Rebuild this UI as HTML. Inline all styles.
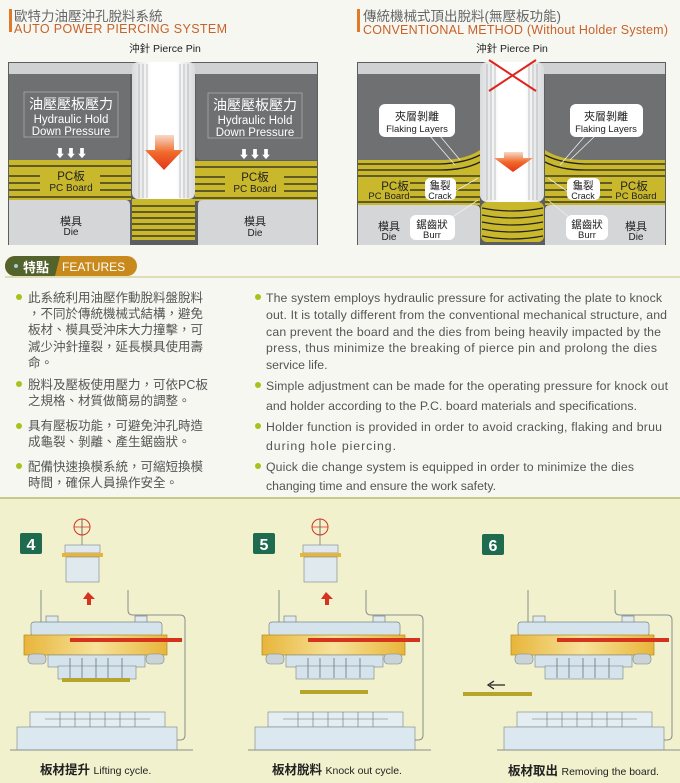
<!DOCTYPE html>
<html><head><meta charset="utf-8"><style>
html,body{margin:0;padding:0;background:#f6f7f1}
svg{display:block}
text{font-family:"Liberation Sans","Noto Sans CJK TC",sans-serif}
</style></head><body>
<svg width="680" height="783" viewBox="0 0 680 783" xmlns="http://www.w3.org/2000/svg">
<defs>
<linearGradient id="ra" x1="0" y1="0" x2="0" y2="1"><stop offset="0" stop-color="#f7d9c8"/><stop offset="0.5" stop-color="#f06a2a"/><stop offset="1" stop-color="#e4341b"/></linearGradient>
<linearGradient id="yl" x1="0" y1="0" x2="1" y2="0"><stop offset="0" stop-color="#e8b53a"/><stop offset="0.5" stop-color="#f7e29a"/><stop offset="1" stop-color="#e8b53a"/></linearGradient>
<linearGradient id="pin" x1="0" y1="0" x2="1" y2="0"><stop offset="0" stop-color="#d8dadb"/><stop offset="0.3" stop-color="#fff"/><stop offset="0.7" stop-color="#fff"/><stop offset="1" stop-color="#d8dadb"/></linearGradient>
<g id="upper">
 <path d="M41 590V622M128 590V610Q128 615 133 615H180Q185 615 185 620V735Q185 740 180 740H175" stroke="#8a8f90" fill="none" stroke-width="1"/>
 <rect x="46" y="616" width="12" height="7" fill="#dfe9ee" stroke="#7a8589" stroke-width="0.7"/>
 <rect x="135" y="616" width="12" height="7" fill="#dfe9ee" stroke="#7a8589" stroke-width="0.7"/>
 <rect x="31" y="622" width="131" height="14" rx="3" fill="#d5e4ec" stroke="#7a8589" stroke-width="0.7"/>
 <rect x="24" y="635" width="143" height="20" fill="url(#yl)" stroke="#b08a20" stroke-width="0.7"/>
 <rect x="70" y="638" width="112" height="4" fill="#d6331f"/>
 <rect x="28" y="654" width="18" height="10" rx="4" fill="#c9d3d8" stroke="#7a8589" stroke-width="0.6"/>
 <rect x="146" y="654" width="18" height="10" rx="4" fill="#c9d3d8" stroke="#7a8589" stroke-width="0.6"/>
 <rect x="48" y="655" width="97" height="12" fill="#d5e4ec" stroke="#7a8589" stroke-width="0.6"/>
 <rect x="58" y="666" width="78" height="13" fill="#d5e4ec" stroke="#7a8589" stroke-width="0.6"/>
 <path d="M70 658V678M82 658V678M96 658V678M108 658V678M122 658V678" stroke="#6a7376" stroke-width="0.8"/>
</g>
<g id="lower">
 <rect x="30" y="712" width="135" height="15" fill="#e4edf1" stroke="#7a8589" stroke-width="0.6"/>
 <path d="M60 712V727M75 712V727M90 712V727M105 712V727M120 712V727M135 712V727M45 719H150" stroke="#6a7376" stroke-width="0.6"/>
 <rect x="17" y="727" width="160" height="23" fill="#dbe8ef" stroke="#7a8589" stroke-width="0.6"/>
 <line x1="10" y1="750" x2="193" y2="750" stroke="#8a8f90"/>
</g>
<g id="head">
 <circle cx="82" cy="527" r="8" fill="none" stroke="#d6331f" stroke-width="1"/>
 <path d="M74 527H90M82 519V535" stroke="#d6331f" stroke-width="0.7"/>
 <path d="M82 519V582" stroke="#555" stroke-width="0.6"/>
 <rect x="65" y="545" width="35" height="8" fill="#dfe9ee" stroke="#7a8589" stroke-width="0.6"/>
 <rect x="62" y="553" width="41" height="4" fill="#e8b53a"/>
 <rect x="66" y="557" width="33" height="25" fill="#dfe9ee" stroke="#7a8589" stroke-width="0.6"/>
 <path d="M85 592L92 599H88V605H84V599H80Z" fill="#d6331f" transform="translate(3,0)"/>
</g>
</defs>

<rect x="9" y="9" width="3" height="23" fill="#e07a2a"/>
<text x="14" y="21" font-size="13.5" fill="#666">歐特力油壓沖孔脫料系統</text>
<text x="14" y="33" font-size="12.5" fill="#c8622a" textLength="213">AUTO POWER PIERCING SYSTEM</text>
<rect x="357" y="9" width="3" height="23" fill="#e07a2a"/>
<text x="363" y="21" font-size="13.5" fill="#666">傳統機械式頂出脫料(無壓板功能)</text>
<text x="363" y="34" font-size="12.5" fill="#c8622a" textLength="305">CONVENTIONAL METHOD (Without Holder System)</text>

<text x="165" y="52" font-size="10.5" fill="#222" text-anchor="middle">沖針 Pierce Pin</text>
<rect x="8" y="62" width="310" height="183" fill="#5c5e60"/>
<rect x="9" y="63" width="308" height="11" fill="#cfd1d3"/>
<path d="M9 74H130V155Q130 160 125 160H9Z" fill="#6f7072"/>
<path d="M196 74H317V160H201Q196 160 196 155Z" fill="#6f7072"/>
<rect x="24" y="92" width="94" height="45" fill="none" stroke="#aaa" stroke-width="0.8"/>
<rect x="208" y="93" width="94" height="45" fill="none" stroke="#aaa" stroke-width="0.8"/>
<g fill="#fff" text-anchor="middle">
<text x="71" y="109" font-size="14">油壓壓板壓力</text><text x="71" y="123" font-size="11.5">Hydraulic Hold</text><text x="71" y="135" font-size="11.5">Down Pressure</text>
<text x="255" y="110" font-size="14">油壓壓板壓力</text><text x="255" y="124" font-size="11.5">Hydraulic Hold</text><text x="255" y="136" font-size="11.5">Down Pressure</text>
<text x="71" y="157" font-size="11">⬇⬇⬇</text><text x="255" y="158" font-size="11">⬇⬇⬇</text>
</g>
<rect x="9" y="160" width="122" height="40" fill="#c9b82c"/>
<rect x="195" y="161" width="122" height="40" fill="#c9b82c"/>
<g stroke="#222" stroke-width="1.3">
<path d="M9 166H131M9 176H40M100 176H131M9 183H40M100 183H131M9 190H40M100 190H131M9 197H131"/>
<path d="M195 167H317M195 177H225M284 177H317M195 184H225M284 184H317M195 191H225M284 191H317M195 198H317"/>
</g>
<text x="71" y="180" font-size="11.5" fill="#222" text-anchor="middle">PC板</text><text x="71" y="191" font-size="10" fill="#222" text-anchor="middle">PC Board</text>
<text x="255" y="181" font-size="11.5" fill="#222" text-anchor="middle">PC板</text><text x="255" y="192" font-size="10" fill="#222" text-anchor="middle">PC Board</text>
<path d="M9 200H125Q130 200 130 205V245H9Z" fill="#d5d6d8"/>
<path d="M198 205Q198 200 203 200H317V245H198Z" fill="#d5d6d8"/>
<text x="71" y="225" font-size="11" fill="#222" text-anchor="middle">模具</text><text x="71" y="235" font-size="10" fill="#222" text-anchor="middle">Die</text>
<text x="255" y="225" font-size="11" fill="#222" text-anchor="middle">模具</text><text x="255" y="236" font-size="10" fill="#222" text-anchor="middle">Die</text>
<rect x="132" y="199" width="63" height="41" fill="#c9b82c"/>
<path d="M132 206H195M132 212H195M132 218H195M132 224H195M132 230H195M132 236H195" stroke="#222" stroke-width="1.2"/>
<rect x="132" y="62" width="63" height="137" rx="6" fill="url(#pin)"/>
<path d="M139 64V198M143 64V198M147 64V198M180 64V198M184 64V198M188 64V198" stroke="#9a9c9e" stroke-width="0.6"/>
<path d="M155 135H174V150H183L164 170L145 150H155Z" fill="url(#ra)"/>

<text x="512" y="52" font-size="10.5" fill="#222" text-anchor="middle">沖針 Pierce Pin</text>
<rect x="357" y="62" width="309" height="183" fill="#5c5e60"/>
<rect x="358" y="63" width="307" height="11" fill="#cfd1d3"/>
<rect x="358" y="74" width="122" height="90" fill="#6f7072"/>
<rect x="545" y="74" width="120" height="90" fill="#6f7072"/>
<path d="M358 160H440Q465 160 480 150V205H358Z" fill="#c9b82c"/>
<path d="M545 150Q560 160 585 160H665V205H545Z" fill="#c9b82c"/>
<g stroke="#222" stroke-width="1.3" fill="none">
<path d="M358 164H440Q465 163 480 155M358 170H440Q465 170 480 162M358 176H480M410 183H480M410 190H480M410 197H480M358 202H480"/>
<path d="M545 155Q560 163 585 164H665M545 162Q560 170 585 170H665M545 176H665M545 183H612M545 190H612M545 197H612M545 202H665"/>
</g>
<text x="395" y="190" font-size="11.5" fill="#222" text-anchor="middle">PC板</text><text x="389" y="199" font-size="9.5" fill="#222" text-anchor="middle">PC Board</text>
<text x="634" y="190" font-size="11.5" fill="#222" text-anchor="middle">PC板</text><text x="636" y="199" font-size="9.5" fill="#222" text-anchor="middle">PC Board</text>
<path d="M358 205H475Q480 205 480 210V245H358Z" fill="#d5d6d8"/>
<path d="M545 210Q545 205 550 205H665V245H545Z" fill="#d5d6d8"/>
<text x="389" y="230" font-size="11" fill="#222" text-anchor="middle">模具</text><text x="389" y="240" font-size="10" fill="#222" text-anchor="middle">Die</text>
<text x="636" y="230" font-size="11" fill="#222" text-anchor="middle">模具</text><text x="636" y="240" font-size="10" fill="#222" text-anchor="middle">Die</text>
<rect x="481" y="202" width="63" height="40" rx="6" fill="#c9b82c"/>
<path d="M482 208Q512 214 543 208M482 215Q512 221 543 215M482 222Q512 228 543 222M482 229Q512 235 543 229M482 236Q512 242 543 236" stroke="#222" stroke-width="1.2" fill="none"/>
<rect x="480" y="62" width="64" height="140" rx="7" fill="url(#pin)"/>
<path d="M487 64V200M491 64V200M495 64V200M529 64V200M533 64V200M537 64V200" stroke="#9a9c9e" stroke-width="0.6"/>
<path d="M489 60L536 91M536 60L489 91" stroke="#e0241b" stroke-width="2"/>
<path d="M504 152H523V158H533L513 172L494 158H504Z" fill="url(#ra)"/>
<g stroke="#eee" stroke-width="0.8"><path d="M430 136L455 165M440 136L460 160M585 136L560 165M595 136L570 160M440 200L478 178M580 200L548 178M445 222L478 200M575 222L548 200"/></g>
<g fill="#fff"><rect x="379" y="104" width="76" height="33" rx="6"/><rect x="570" y="104" width="73" height="33" rx="6"/>
<rect x="425" y="178" width="31" height="22" rx="5"/><rect x="567" y="178" width="33" height="22" rx="5"/>
<rect x="410" y="215" width="45" height="25" rx="6"/><rect x="566" y="215" width="42" height="25" rx="6"/></g>
<g fill="#222" text-anchor="middle">
<text x="417" y="120" font-size="11">夾層剝離</text><text x="417" y="132" font-size="9.5">Flaking Layers</text>
<text x="606" y="120" font-size="11">夾層剝離</text><text x="606" y="132" font-size="9.5">Flaking Layers</text>
<text x="440" y="189" font-size="10.5">龜裂</text><text x="440" y="199" font-size="9">Crack</text>
<text x="583" y="189" font-size="10.5">龜裂</text><text x="583" y="199" font-size="9">Crack</text>
<text x="432" y="228" font-size="10.5">鋸齒狀</text><text x="432" y="238" font-size="9.5">Burr</text>
<text x="587" y="228" font-size="10.5">鋸齒狀</text><text x="587" y="238" font-size="9.5">Burr</text>
</g>

<line x1="5" y1="277" x2="680" y2="277" stroke="#c8c27a" stroke-width="1"/>
<rect x="5" y="256" width="132" height="20" rx="10" fill="#c98a1d"/>
<path d="M15 256H60L55 276H15A10 10 0 0 1 15 256Z" fill="#54622b"/>
<circle cx="16" cy="266" r="2" fill="#9ccfe0"/>
<text x="23" y="272" font-size="13" fill="#fff" font-weight="bold">特點</text>
<text x="62" y="271" font-size="12" fill="#fff">FEATURES</text>

<g fill="#a8c11c"><circle cx="19" cy="297" r="3"/><circle cx="19" cy="384" r="3"/><circle cx="19" cy="426" r="3"/><circle cx="19" cy="466" r="3"/>
<circle cx="258" cy="297" r="3"/><circle cx="258" cy="385" r="3"/><circle cx="258" cy="426" r="3"/><circle cx="258" cy="466" r="3"/></g>
<g fill="#555" font-size="12.5">
<text x="28" y="302">此系統利用油壓作動脫料盤脫料</text>
<text x="28" y="318">，不同於傳統機械式結構，避免</text>
<text x="28" y="334">板材、模具受沖床大力撞擊，可</text>
<text x="28" y="351">減少沖針撞裂，延長模具使用壽</text>
<text x="28" y="367">命。</text>
<text x="28" y="389">脫料及壓板使用壓力，可依PC板</text>
<text x="28" y="405">之規格、材質做簡易的調整。</text>
<text x="28" y="430">具有壓板功能，可避免沖孔時造</text>
<text x="28" y="446">成龜裂、剝離、產生鋸齒狀。</text>
<text x="28" y="471">配備快速換模系統，可縮短換模</text>
<text x="28" y="487">時間，確保人員操作安全。</text>
</g>
<g fill="#555" font-size="12.3">
<text x="266" y="302" textLength="396">The system employs hydraulic pressure for activating the plate to knock</text>
<text x="266" y="319" textLength="401">out. It is totally different from the conventional mechanical structure, and</text>
<text x="266" y="336" textLength="395">can prevent the board and the dies from being heavily impacted by the</text>
<text x="266" y="352" textLength="391">press, thus minimize the breaking of pierce pin and prolong the dies</text>
<text x="266" y="369">service life.</text>
<text x="266" y="390" textLength="402">Simple adjustment can be made for the operating pressure for knock out</text>
<text x="266" y="410" textLength="371">and holder according to the P.C. board materials and specifications.</text>
<text x="266" y="431" textLength="396">Holder function is provided in order to avoid cracking, flaking and bruu</text>
<text x="266" y="450" textLength="130">during hole piercing.</text>
<text x="266" y="471" textLength="368">Quick die change system is equipped in order to minimize the dies</text>
<text x="266" y="490" textLength="230">changing time and ensure the work safety.</text>
</g>

<rect x="0" y="497" width="680" height="286" fill="#f1f1cd"/>
<line x1="0" y1="498" x2="680" y2="498" stroke="#c9c98e" stroke-width="2"/>
<g>
<use href="#head"/><use href="#upper"/>
<rect x="62" y="678" width="68" height="4" fill="#b5a52a"/>
<use href="#lower"/>
</g>
<g transform="translate(238,0)">
<use href="#head"/><use href="#upper"/>
<rect x="62" y="690" width="68" height="4" fill="#b5a52a"/>
<use href="#lower"/>
</g>
<g transform="translate(487,0)">
<use href="#upper"/><use href="#lower"/>
</g>
<rect x="463" y="692" width="69" height="4" fill="#b5a52a"/>
<path d="M505 685H490M494 681L488 685L494 689" stroke="#222" stroke-width="1.3" fill="none"/>
<g fill="#1f6b4f"><rect x="20" y="533" width="22" height="21" rx="2"/><rect x="253" y="533" width="22" height="21" rx="2"/><rect x="482" y="534" width="22" height="21" rx="2"/></g>
<g fill="#fff" font-size="16" font-weight="bold" text-anchor="middle">
<text x="31" y="550">4</text><text x="264" y="550">5</text><text x="493" y="551">6</text></g>
<g fill="#222" font-size="12.5">
<text x="40" y="774"><tspan font-weight="bold">板材提升</tspan> <tspan font-size="10.5">Lifting cycle.</tspan></text>
<text x="272" y="774"><tspan font-weight="bold">板材脫料</tspan> <tspan font-size="10.5">Knock out cycle.</tspan></text>
<text x="508" y="775"><tspan font-weight="bold">板材取出</tspan> <tspan font-size="10.5">Removing the board.</tspan></text>
</g>
</svg>
</body></html>
